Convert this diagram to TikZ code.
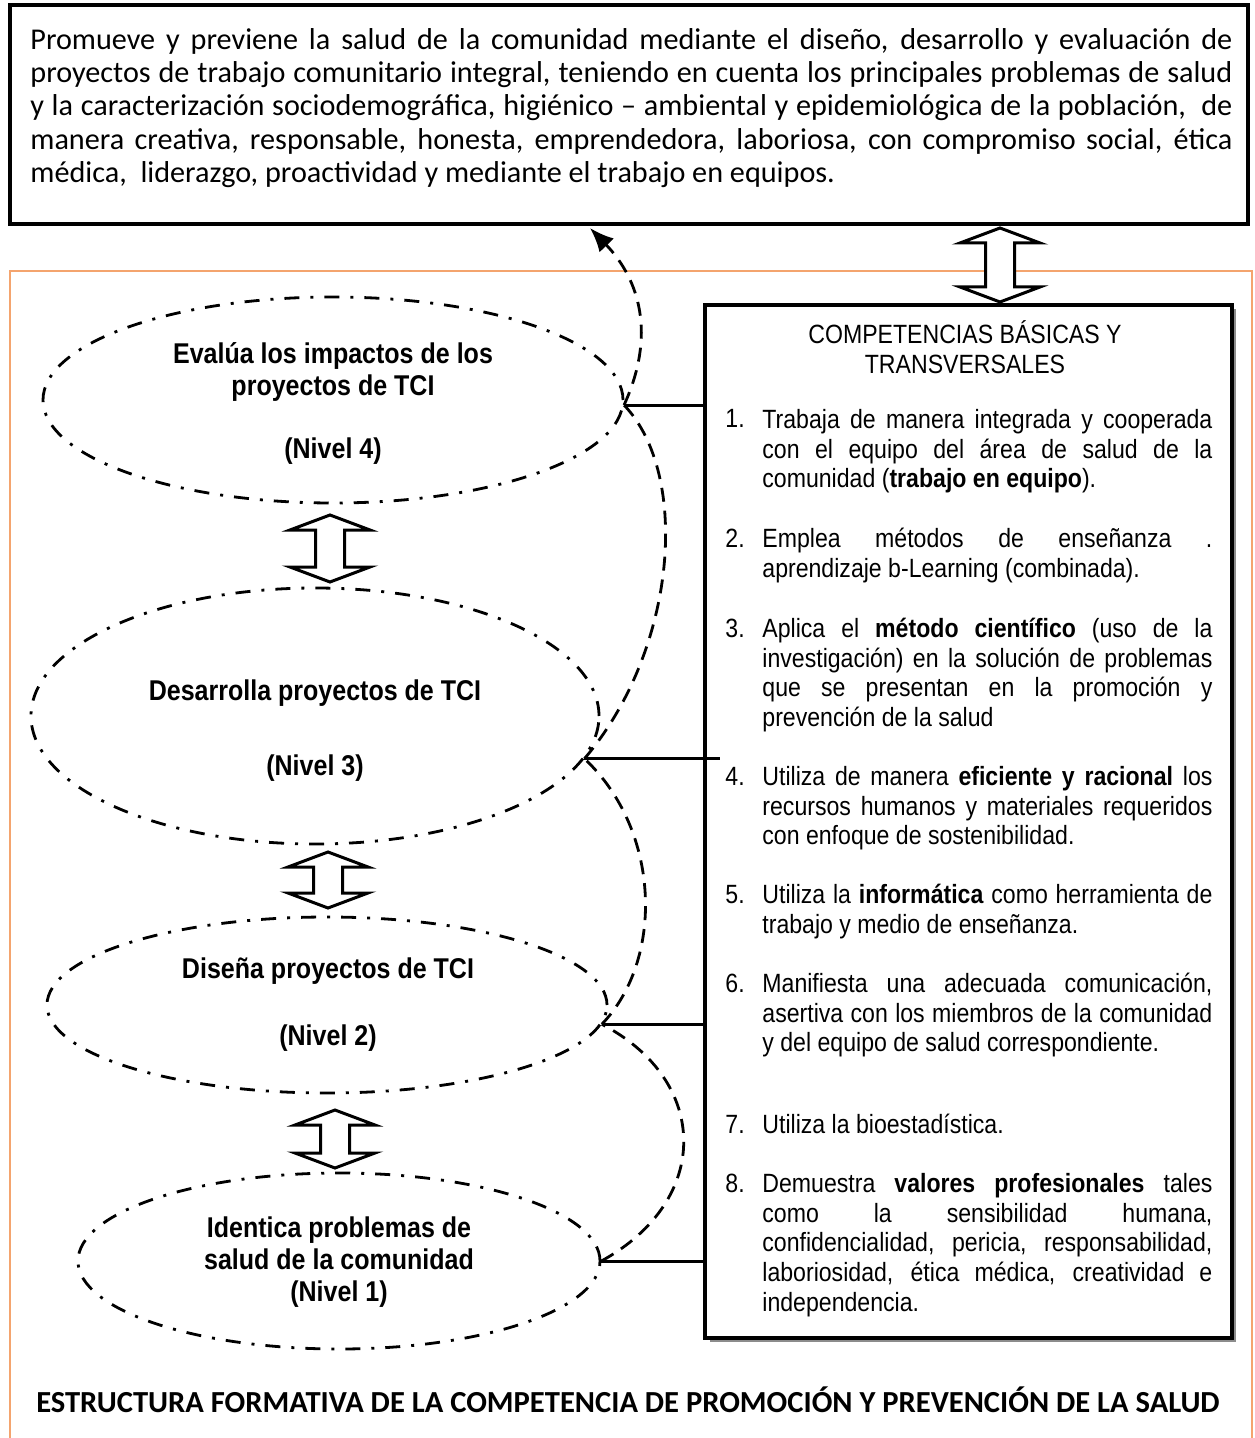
\documentclass[tikz,border=0pt]{standalone}
\usepackage{fontspec}
\setmainfont{Liberation Sans}
\newfontfamily\narrowf[FakeStretch=0.875]{Liberation Sans}
\newfontfamily\calib{Carlito}
\usetikzlibrary{arrows.meta,shapes.geometric,calc}
\definecolor{framec}{RGB}{244,164,110}
\newcommand{\jl}[1]{\makebox[225pt][s]{#1}}
\newcommand{\jt}[1]{\makebox[601pt][s]{#1}}
\newcommand{\sr}{\rule{0pt}{13pt}}
\newcommand{\dblarr}[3]{\draw[dblar] (#1,#2) -- ({#1+40},{#2+15}) -- ({#1+14.5},{#2+15}) -- ({#1+14.5},{#3-15}) -- ({#1+40},{#3-15}) -- (#1,#3) -- ({#1-40},{#3-15}) -- ({#1-14.5},{#3-15}) -- ({#1-14.5},{#2+15}) -- ({#1-40},{#2+15}) -- cycle;}
\begin{document}
\begin{tikzpicture}[x=0.5pt,y=-0.5pt,
  lvl/.style={ellipse, draw, line width=1.4pt, dash pattern=on 7.5pt off 5.5pt on 1.5pt off 5.5pt, inner sep=0pt},
  lvltxt/.style={font=\narrowf\bfseries\fontsize{14.3pt}{16pt}\selectfont, align=center, anchor=north, inner sep=0pt},
  itm/.style={font=\narrowf\fontsize{13.2pt}{14.875pt}\selectfont, align=left, anchor=north west, inner sep=0pt},
  num/.style={font=\narrowf\fontsize{13.2pt}{14.875pt}\selectfont, anchor=base west, inner sep=0pt},
  link/.style={line width=1.5pt},
  flow/.style={line width=1.4pt, dash pattern=on 7pt off 4.5pt},
  dblar/.style={line width=1.5pt, fill=white, line join=miter},
  box/.style={draw, line width=2pt, inner sep=0pt}]
\useasboundingbox (0,0) rectangle (1254,1438);

% orange frame
\draw[framec, line width=1pt] (10,1438) -- (10,271) -- (1252,271) -- (1252,1438);

% top box
\node[box, minimum width=619pt, minimum height=109.5pt] (top) at (629,114.5) {};
\node[font=\calib\fontsize{15.1pt}{16.63pt}\selectfont, align=left, anchor=north west, inner sep=0pt] (ttext) at (30,21) {\rule{0pt}{14pt}\jt{Promueve y previene la salud de la comunidad mediante el diseño, desarrollo y evaluación de}\\
\jt{proyectos de trabajo comunitario integral, teniendo en cuenta los principales problemas de salud}\\
\jt{y la caracterización sociodemográfica, higiénico – ambiental y epidemiológica de la población,\ \ de}\\
\jt{manera creativa, responsable, honesta, emprendedora, laboriosa, con compromiso social, ética}\\
médica,\ \ liderazgo, proactividad y mediante el trabajo en equipos.};

% right box with slight shadow
\fill[black!45] (710,309) rectangle (1236,1342);
\node[box, fill=white, minimum width=263.5pt, minimum height=516.5pt] (box) at (968.5,821.5) {};
\node[itm, align=center, anchor=north] (ctitle) at (965,317) {\sr COMPETENCIAS BÁSICAS Y\\TRANSVERSALES};

\node[num] (k1) at (725,428) {1.};
\node[itm] (i1) at (762,402) {\sr\jl{Trabaja de manera integrada y cooperada}\\\jl{con el equipo del área de salud de la}\\comunidad (\textbf{trabajo en equipo}).};
\node[num] (k2) at (725,547) {2.};
\node[itm] (i2) at (762,521) {\sr\jl{Emplea métodos de enseñanza .}\\aprendizaje b-Learning (combinada).};
\node[num] (k3) at (725,637) {3.};
\node[itm] (i3) at (762,611) {\sr\jl{Aplica el \textbf{método científico} (uso de la}\\\jl{investigación) en la solución de problemas}\\\jl{que se presentan en la promoción y}\\prevención de la salud};
\node[num] (k4) at (725,785) {4.};
\node[itm] (i4) at (762,759) {\sr\jl{Utiliza de manera \textbf{eficiente y racional} los}\\\jl{recursos humanos y materiales requeridos}\\con enfoque de sostenibilidad.};
\node[num] (k5) at (725,903) {5.};
\node[itm] (i5) at (762,877) {\sr\jl{Utiliza la \textbf{informática} como herramienta de}\\trabajo y medio de enseñanza.};
\node[num] (k6) at (725,992) {6.};
\node[itm] (i6) at (762,966) {\sr\jl{Manifiesta una adecuada comunicación,}\\\jl{asertiva con los miembros de la comunidad}\\y del equipo de salud correspondiente.};
\node[num] (k7) at (725,1133) {7.};
\node[itm] (i7) at (762,1107) {\sr Utiliza la bioestadística.};
\node[num] (k8) at (725,1192) {8.};
\node[itm] (i8) at (762,1166) {\sr\jl{Demuestra \textbf{valores profesionales} tales}\\\jl{como la sensibilidad humana,}\\\jl{confidencialidad, pericia, responsabilidad,}\\\jl{laboriosidad, ética médica, creatividad e}\\independencia.};

% levels
\node[lvl, minimum width=290pt, minimum height=103pt] (n4) at (333,400) {};
\node[lvl, minimum width=284pt, minimum height=128pt] (n3) at (315,716) {};
\node[lvl, minimum width=280pt, minimum height=88pt] (n2) at (327,1005) {};
\node[lvl, minimum width=261pt, minimum height=88pt] (n1) at (339,1261) {};

\node[lvltxt] (t4) at (333,337) {\sr Evalúa los impactos de los\\proyectos de TCI\\[15.5pt](Nivel 4)};
\node[lvltxt] (t3) at (315,674) {\sr Desarrolla proyectos de TCI\\[21.5pt](Nivel 3)};
\node[lvltxt] (t2) at (328,952) {\sr Diseña proyectos de TCI\\[17.5pt](Nivel 2)};
\node[lvltxt] (t1) at (339,1211) {\sr Identica problemas de\\salud de la comunidad\\(Nivel 1)};

% links to the right box
\draw[link] (n4.-1) -- (n4.-1 -| box.west);
\draw[link] (n3.-9) -- ($(n3.-9 -| box.west)+(17,0)$);
\draw[link] (n2.-4) -- (n2.-4 -| box.west);
\draw[link] (n1.east) -- (n1.east -| box.west);

% dashed flow
\coordinate (tip) at (590,228);
\draw[flow] (n1.east) .. controls +(111,-61) and +(108,56) .. (n2.-4);
\draw[flow] (n2.-4) .. controls +(62,-64) and +(77,72) .. (n3.-9);
\draw[flow] (n3.-9) .. controls +(92,-108) and +(67,70) .. (n4.-1);
\draw[flow, -{Latex[length=12pt,width=10pt]}] (n4.-1) .. controls +(32,-70) and +(50,52) .. (tip);

% hollow double arrows
\dblarr{1000}{228}{302}
\dblarr{330}{515}{582}
\dblarr{328}{852}{908}
\dblarr{335}{1110}{1168}

% bottom title
\node[font=\calib\bfseries\fontsize{15.3pt}{18pt}\selectfont, anchor=base, inner sep=0pt] (title) at (628,1412) {ESTRUCTURA FORMATIVA DE LA COMPETENCIA DE PROMOCIÓN Y PREVENCIÓN DE LA SALUD};
\end{tikzpicture}
\end{document}
